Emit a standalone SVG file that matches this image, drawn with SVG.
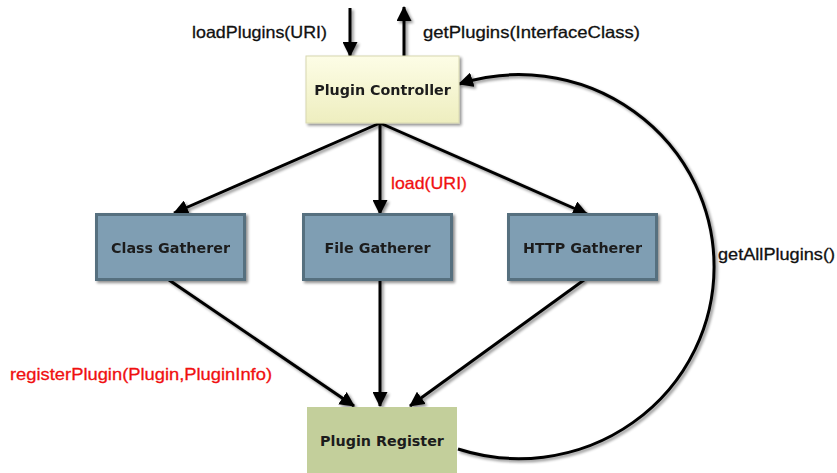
<svg xmlns="http://www.w3.org/2000/svg" width="837" height="473" viewBox="0 0 837 473">
  <defs>
    <linearGradient id="ctrlFill" x1="0" y1="0" x2="0" y2="1">
      <stop offset="0" stop-color="#fdfde6"/>
      <stop offset="1" stop-color="#eeeebf"/>
    </linearGradient>
    <filter id="shadow" x="-20%" y="-20%" width="150%" height="150%">
      <feGaussianBlur in="SourceAlpha" stdDeviation="1.6"/>
      <feOffset dx="2" dy="2" result="b"/>
      <feComponentTransfer><feFuncA type="linear" slope="0.45"/></feComponentTransfer>
      <feMerge><feMergeNode/><feMergeNode in="SourceGraphic"/></feMerge>
    </filter>
    <marker id="arrow" viewBox="0 0 15 15" refX="14" refY="7.5" markerWidth="15" markerHeight="15" markerUnits="userSpaceOnUse" orient="auto">
      <path d="M0,0 L15,7.5 L0,15 Z" fill="#000"/>
    </marker>
  </defs>
  <style>
    .lbl { font-family: "Liberation Sans", Arial, sans-serif; font-size: 16.5px; fill: #111; stroke: #111; stroke-width: 0.3; }
    .red { fill: #f01010; stroke: #f01010; }
    .node text { font-family: "DejaVu Sans", Verdana, sans-serif; font-weight: bold; font-size: 14.3px; fill: #1c1c1c; text-anchor: middle; }
    .gath { fill: #7f9eb3; stroke: #56707f; stroke-width: 3; }
    .conn line, .conn path { stroke: #000; stroke-width: 3; fill: none; marker-end: url(#arrow); }
  </style>

  <rect width="837" height="473" fill="#fff"/>

  <!-- connectors -->
  <g class="conn" filter="url(#shadow)">
    <line x1="350" y1="8" x2="350" y2="56"/>
    <line x1="404" y1="56" x2="404" y2="7"/>
    <line x1="380" y1="123" x2="174" y2="213"/>
    <line x1="380" y1="123" x2="380" y2="214"/>
    <line x1="380" y1="123" x2="587" y2="214"/>
    <line x1="169" y1="280" x2="354" y2="406"/>
    <line x1="380" y1="280" x2="380" y2="406"/>
    <line x1="584" y1="280" x2="410" y2="406"/>
    <path d="M 458 449 A 195 192 0 1 0 459 84"/>
  </g>

  <!-- nodes -->
  <g id="plugin-controller" class="node" filter="url(#shadow)">
    <rect x="306" y="56" width="153" height="67" fill="url(#ctrlFill)" stroke="#d8d8b0" stroke-width="1"/>
    <text x="382.5" y="95">Plugin Controller</text>
  </g>
  <g id="class-gatherer" class="node" filter="url(#shadow)">
    <rect class="gath" x="96.5" y="214.5" width="148" height="65"/>
    <text x="170.5" y="253">Class Gatherer</text>
  </g>
  <g id="file-gatherer" class="node" filter="url(#shadow)">
    <rect class="gath" x="303.5" y="214.5" width="148" height="65"/>
    <text x="377.5" y="253">File Gatherer</text>
  </g>
  <g id="http-gatherer" class="node" filter="url(#shadow)">
    <rect class="gath" x="508.5" y="214.5" width="148" height="65"/>
    <text x="582.5" y="253">HTTP Gatherer</text>
  </g>
  <g id="plugin-register" class="node">
    <rect x="307" y="407" width="150" height="70" fill="#c3cf9b"/>
    <text x="382" y="446">Plugin Register</text>
  </g>

  <!-- labels -->
  <text class="lbl" x="192" y="38" textLength="135" lengthAdjust="spacingAndGlyphs">loadPlugins(URI)</text>
  <text class="lbl" x="423" y="38" textLength="217" lengthAdjust="spacingAndGlyphs">getPlugins(InterfaceClass)</text>
  <text class="lbl red" x="391" y="189" textLength="76" lengthAdjust="spacingAndGlyphs">load(URI)</text>
  <text class="lbl" x="718" y="260" textLength="117" lengthAdjust="spacingAndGlyphs">getAllPlugins()</text>
  <text class="lbl red" x="10" y="380" textLength="262" lengthAdjust="spacingAndGlyphs">registerPlugin(Plugin,PluginInfo)</text>
</svg>
